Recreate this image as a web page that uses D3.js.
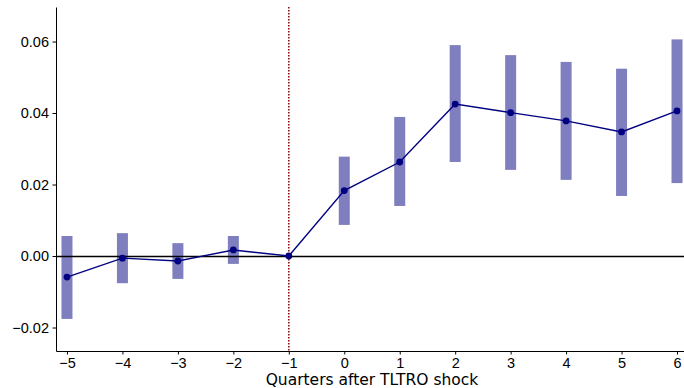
<!DOCTYPE html>
<html>
<head>
<meta charset="utf-8">
<script src="https://cdn.jsdelivr.net/npm/d3@7"></script>
<style>
  body { margin: 0; background: #fff; }
  svg { display: block; font-family: "DejaVu Sans", sans-serif; }
  .axis text { font-size: 14.5px; fill: #000; }
  .axis path, .axis line { stroke: #000; }
</style>
</head>
<body>
<div id="chart"></div>
<script>
var quarters = [-5, -4, -3, -2, -1, 0, 1, 2, 3, 4, 5, 6];
var coef = [-0.0059, -0.0006, -0.0014, 0.0017, 0, 0.0183, 0.0263, 0.0425, 0.0401, 0.0378, 0.0347, 0.0406];
var lower = [-0.0176, -0.0076, -0.0064, -0.0022, null, 0.0087, 0.0140, 0.0263, 0.0241, 0.0213, 0.0168, 0.0204];
var upper = [0.0056, 0.0064, 0.0036, 0.0056, null, 0.0278, 0.0389, 0.0590, 0.0562, 0.0543, 0.0524, 0.0606];
var yTicks = [-0.02, 0, 0.02, 0.04, 0.06];

var W = 684, H = 388,
    margin = { top: 7, right: 0, bottom: 37, left: 56 },
    width = W - margin.left - margin.right,
    height = H - margin.top - margin.bottom;

var data = quarters.map(function (q, i) {
    return { q: q, b: coef[i], lo: lower[i], hi: upper[i] };
});

var x = d3.scaleLinear()
    .domain([-5.198, 6.126])
    .range([0, width]);

var y = d3.scaleLinear()
    .domain([-0.02657, 0.06966])
    .range([height, 0]);

var svg = d3.select("#chart").append("svg")
    .attr("width", W)
    .attr("height", H)
    .append("g")
    .attr("transform", "translate(" + margin.left + "," + margin.top + ")");

// confidence bands
svg.selectAll(".ci")
    .data(data.filter(function (d) { return d.lo !== null; }))
    .enter()
    .append("rect")
    .attr("class", "ci")
    .attr("x", function (d) { return x(d.q) - 5.5; })
    .attr("width", 11)
    .attr("y", function (d) { return y(d.hi); })
    .attr("height", function (d) { return y(d.lo) - y(d.hi); })
    .attr("fill", "#000080")
    .attr("fill-opacity", 0.5);

// zero line
svg.append("line")
    .attr("x1", 0).attr("x2", width)
    .attr("y1", Math.round(y(0)) + 0.5).attr("y2", Math.round(y(0)) + 0.5)
    .attr("stroke", "#000")
    .attr("stroke-width", 1.5);

// shock marker
svg.append("line")
    .attr("x1", x(-1)).attr("x2", x(-1))
    .attr("y1", 0).attr("y2", height)
    .attr("stroke", "#8b0000")
    .attr("stroke-width", 1.5)
    .attr("stroke-dasharray", "1.5,1.5");

var line = d3.line()
    .x(function (d) { return x(d.q); })
    .y(function (d) { return y(d.b); });

svg.append("path")
    .datum(data)
    .attr("d", line)
    .attr("fill", "none")
    .attr("stroke", "#000080")
    .attr("stroke-width", 1.4);

svg.selectAll(".pt")
    .data(data)
    .enter()
    .append("circle")
    .attr("class", "pt")
    .attr("cx", function (d) { return x(d.q); })
    .attr("cy", function (d) { return y(d.b); })
    .attr("r", 3.4)
    .attr("fill", "#000080");

var fmtX = function (d) { return d < 0 ? "\u2212" + Math.abs(d) : d; };
var fmtY = function (d) {
    var s = Math.abs(d).toFixed(2);
    return d < 0 ? "\u2212" + s : s;
};

svg.append("g")
    .attr("class", "axis")
    .attr("transform", "translate(0," + height + ")")
    .call(d3.axisBottom(x).tickValues(quarters).tickFormat(fmtX).tickSize(3.5).tickSizeOuter(0).tickPadding(3.5));

svg.append("g")
    .attr("class", "axis")
    .call(d3.axisLeft(y).tickValues(yTicks).tickFormat(fmtY).tickSize(3.5).tickSizeOuter(0).tickPadding(3.5));

svg.append("text")
    .attr("x", x(0.5))
    .attr("y", height + 33.5)
    .attr("text-anchor", "middle")
    .attr("font-size", "15.5px")
    .text("Quarters after TLTRO shock");
</script>
</body>
</html>
